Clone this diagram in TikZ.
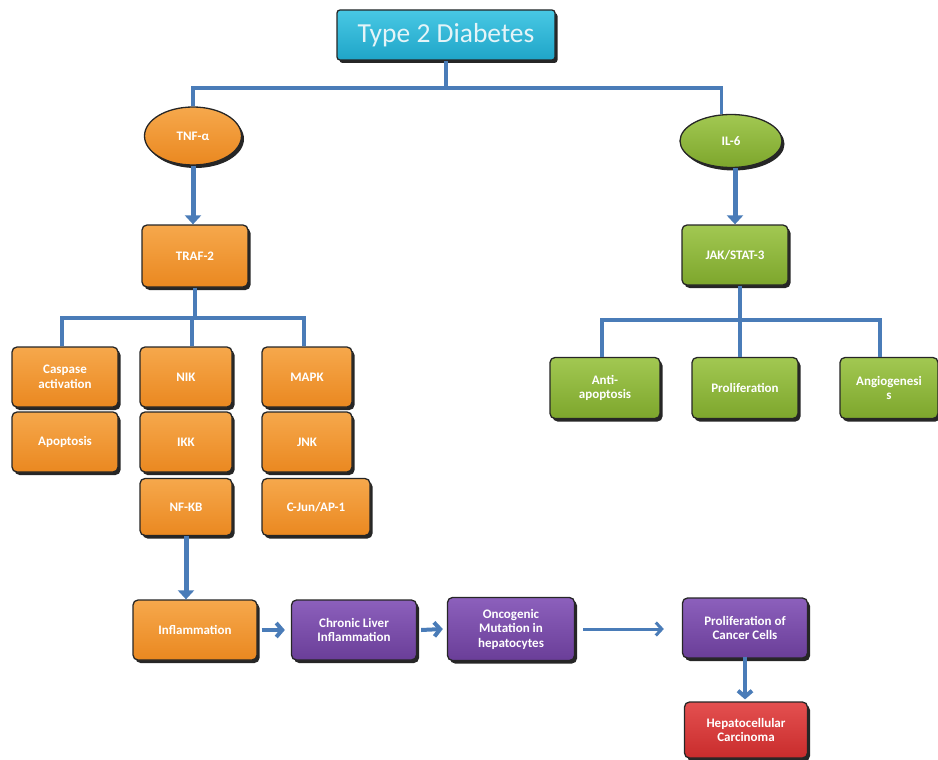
\documentclass[tikz,border=0pt]{standalone}
\usepackage{fontspec}
\setmainfont{Carlito}
\usetikzlibrary{shapes.geometric,shadows,arrows.meta,calc}
\definecolor{linkblue}{HTML}{4A7CB8}
\definecolor{orA}{HTML}{F6A84C}\definecolor{orB}{HTML}{EA8820}
\definecolor{grA}{HTML}{A2C852}\definecolor{grB}{HTML}{7DA62C}
\definecolor{puA}{HTML}{8C60BC}\definecolor{puB}{HTML}{6A3E98}
\definecolor{rdA}{HTML}{E45050}\definecolor{rdB}{HTML}{C82C2C}
\definecolor{cyA}{HTML}{48C8E4}\definecolor{cyB}{HTML}{1FA5C8}
\definecolor{titletext}{HTML}{E4F4F8}
\tikzset{
  base/.style={draw=black!85, line width=1.3pt,
    drop shadow={shadow xshift=2.5pt, shadow yshift=-3pt, fill=black!85, opacity=1},
    text=white, font=\bfseries\fontsize{13}{14.5}\selectfont, align=center,
    inner sep=2pt},
  card/.style={base, rectangle, rounded corners=5pt},
  orange/.style={top color=orA, bottom color=orB},
  green/.style={top color=grA, bottom color=grB},
  purple/.style={top color=puA, bottom color=puB},
  red/.style={top color=rdA, bottom color=rdB},
  cyan/.style={top color=cyA, bottom color=cyB},
  oval/.style={base, ellipse, inner sep=0pt},
  wh/.style 2 args={minimum width=#1pt, minimum height=#2pt},
  tree/.style={draw=linkblue, line width=3.5pt},
  bigarrow/.style={draw=linkblue, line width=5pt, -{Triangle[length=9pt,width=16pt]}},
  barbarrow/.style={draw=linkblue, line width=4pt, -{Straight Barb[length=6pt,width=14pt]}},
  thinarrow/.style={draw=linkblue, line width=3pt, -{Straight Barb[length=6pt,width=13pt]}},
}
\begin{document}
\begin{tikzpicture}[x=1pt,y=-1pt]
\useasboundingbox (0,0) rectangle (938,760);

% top node
\node[card, cyan, wh={218}{50}, rounded corners=3pt, text=titletext,
      font=\fontsize{27.5}{30}\selectfont] (t2d) at (446,35) {Type 2 Diabetes};

% receptors
\node[oval, orange, wh={97}{58}] (tnf) at (193,136) {TNF-α};
\node[oval, green, wh={102}{53}] (il6) at (731,141) {IL-6};

% adaptors
\node[card, orange, wh={106}{62}] (traf) at (195,256) {TRAF-2};
\node[card, green, wh={106}{60}] (jak) at (735,255) {JAK/STAT-3};

% TNF branch
\node[card, orange, wh={106}{60}] (casp) at (65,377) {Caspase\\activation};
\node[card, orange, wh={106}{60}] (apop) at (65,442) {Apoptosis};
\node[card, orange, wh={92}{60}] (nik) at (186,377) {NIK};
\node[card, orange, wh={92}{60}] (ikk) at (186,442) {IKK};
\node[card, orange, wh={92}{57}] (nfkb) at (186,507) {NF-KB};
\node[card, orange, wh={90}{60}] (mapk) at (307,377) {MAPK};
\node[card, orange, wh={90}{60}] (jnk) at (307,442) {JNK};
\node[card, orange, wh={108}{57}] (cjun) at (316,507) {C-Jun/AP-1};

% IL-6 branch
\node[card, green, wh={110}{61}] (anti) at (605,388) {Anti-\\apoptosis};
\node[card, green, wh={106}{61}] (prolif) at (745,388) {Proliferation};
\node[card, green, wh={98}{61}] (angio) at (889,388) {Angiogenesi\\s};

% bottom pathway
\node[card, orange, wh={124}{60}] (infl) at (195,630) {Inflammation};
\node[card, purple, wh={125}{60}] (chronic) at (354,630) {Chronic Liver\\Inflammation};
\node[card, purple, wh={127}{63}] (onco) at (511,629) {Oncogenic\\Mutation in\\hepatocytes};
\node[card, purple, wh={125}{60}] (pcc) at (745,628) {Proliferation of\\Cancer Cells};
\node[card, red, wh={123}{56}] (hcc) at (746,730) {Hepatocellular\\Carcinoma};

% top tree
\coordinate (hub) at (446,88);
\draw[tree] (t2d.south) -- (hub);
\draw[tree] (hub) -| (tnf.north);
\draw[tree] (hub) -| (il6.110);

% receptor -> adaptor
\draw[bigarrow] (tnf.south) -- (tnf.south |- traf.north);
\draw[bigarrow] ([xshift=4pt]il6.south) -- ([xshift=4pt]il6.south |- jak.north);

% TRAF-2 tree
\coordinate (tj) at (195,318);
\draw[tree] (traf.south) -- (tj);
\draw[tree] (tj) -| ([xshift=-3pt]casp.north);
\draw[tree] (tj) -| ([xshift=6pt]nik.north);
\draw[tree] (tj) -| ([xshift=-3pt]mapk.north);

% JAK/STAT-3 tree
\coordinate (jj) at (740,320);
\draw[tree] ([xshift=5pt]jak.south) -- (jj);
\draw[tree] (jj) -| ([xshift=-3pt]anti.north);
\draw[tree] (jj) -| ([xshift=-5pt]prolif.north);
\draw[tree] (jj) -| ([xshift=-9pt]angio.north);

% pathway arrows
\draw[bigarrow] (nfkb.south) -- (infl.north -| nfkb.south);
\draw[barbarrow] ([xshift=4pt]infl.east) -- ([xshift=-6pt]chronic.west);
\draw[barbarrow] ([xshift=4pt]chronic.east) -- ([xshift=-4pt]onco.west);
\draw[thinarrow] ([xshift=8pt]onco.east) -- ([xshift=-18pt]onco.east -| pcc.west);
\draw[barbarrow] ([yshift=2pt]pcc.south) -- ([yshift=2pt]pcc.south |- hcc.north);
\end{tikzpicture}
\end{document}
